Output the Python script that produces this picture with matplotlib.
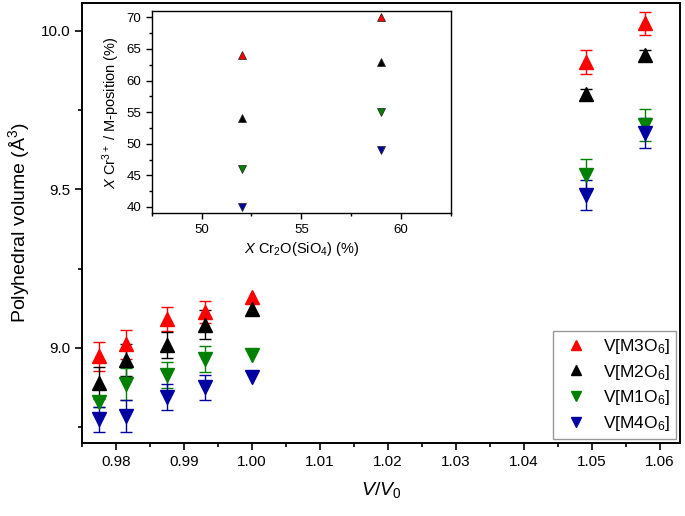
import matplotlib
matplotlib.use("Agg")
import matplotlib.pyplot as plt
from matplotlib.lines import Line2D
from matplotlib.ticker import MultipleLocator

plt.rcParams["font.family"] = ["Liberation Sans", "DejaVu Sans"]
plt.rcParams["mathtext.fontset"] = "custom"
plt.rcParams["mathtext.rm"] = "Liberation Sans"
plt.rcParams["mathtext.it"] = "Liberation Sans:italic"

# main panel: polyhedral volume vs V/V0 (err 0 = no bar drawn)
v_ratio = [0.9775, 0.9815, 0.9875, 0.9931, 1.000, 1.0492, 1.0578]
vol_m3 = [8.973, 9.012, 9.091, 9.113, 9.160, 9.903, 10.024]
err_m3 = [0.045, 0.046, 0.038, 0.035, 0.0, 0.038, 0.037]
vol_m2 = [8.889, 8.962, 9.009, 9.073, 9.122, 9.801, 9.924]
err_m2 = [0.050, 0.050, 0.040, 0.045, 0.0, 0.015, 0.015]
vol_m1 = [8.829, 8.886, 8.915, 8.965, 8.978, 9.546, 9.703]
err_m1 = [0.015, 0.050, 0.040, 0.040, 0.0, 0.050, 0.050]
vol_m4 = [8.775, 8.785, 8.845, 8.876, 8.909, 9.483, 9.677]
err_m4 = [0.040, 0.050, 0.040, 0.040, 0.0, 0.048, 0.047]

# inset: Cr3+ fraction on M-positions vs Cr2O(SiO4) content
x_cr = [52, 59]
cr_m3 = [64, 70]
cr_m2 = [54, 63]
cr_m1 = [46, 55]
cr_m4 = [40, 49]

series = [
    ("V[M3O$_6$]", vol_m3, err_m3, cr_m3, "^", "#ff0000"),
    ("V[M2O$_6$]", vol_m2, err_m2, cr_m2, "^", "#000000"),
    ("V[M1O$_6$]", vol_m1, err_m1, cr_m1, "v", "#008000"),
    ("V[M4O$_6$]", vol_m4, err_m4, cr_m4, "v", "#0000a0"),
]

fig = plt.figure(figsize=(6.85, 5.16), dpi=100)
ax = fig.add_axes([0.1197, 0.1415, 0.873, 0.8527])
handles = []
for label, y, e, _, m, c in series:
    xs = [x for x, ee in zip(v_ratio, e) if ee > 0]
    ys = [v for v, ee in zip(y, e) if ee > 0]
    es = [ee for ee in e if ee > 0]
    ax.errorbar(xs, ys, yerr=es, fmt="none", ecolor=c, elinewidth=1,
                capsize=4, capthick=1, zorder=2)
    ax.plot(v_ratio, y, m, color=c, ms=9.5, mec=c, ls="none", zorder=3)
    handles.append(Line2D([], [], marker=m, color=c, ms=7.5, ls="none", label=label))
ax.set_xlim(0.975, 1.063)
ax.set_ylim(8.70, 10.088)
ax.xaxis.set_major_locator(MultipleLocator(0.01))
ax.xaxis.set_minor_locator(MultipleLocator(0.005))
ax.yaxis.set_major_locator(MultipleLocator(0.5))
ax.yaxis.set_minor_locator(MultipleLocator(0.25))
ax.xaxis.set_major_formatter(plt.FormatStrFormatter("%.2f"))
ax.yaxis.set_major_formatter(plt.FormatStrFormatter("%.1f"))
ax.tick_params(which="major", direction="out", length=5, width=1.2, labelsize=11, top=False, right=False)
ax.tick_params(which="minor", direction="out", length=3, width=1.2, top=False, right=False)
for s in ax.spines.values():
    s.set_linewidth(1.4)
ax.set_xlabel("$\\mathit{V/V_0}$", fontsize=14, labelpad=8)
ax.set_ylabel("Polyhedral volume (Å$^3$)", fontsize=14, labelpad=6)

leg = ax.legend(handles=handles, loc="lower right", fontsize=12.5, frameon=True, fancybox=False,
                edgecolor="#808080", handlelength=2.0, handletextpad=0.6,
                borderpad=0.3, labelspacing=0.4, borderaxespad=0.25)
leg.get_frame().set_linewidth(1.0)

ins = fig.add_axes([0.2215, 0.5866, 0.4369, 0.392])
for label, _, _, yc, m, c in series:
    ins.plot(x_cr, yc, m, color=c, ms=6, mec="#202020", mew=0.5, ls="none")
ins.set_xlim(47.5, 62.5)
ins.set_ylim(39, 71)
ins.xaxis.set_major_locator(MultipleLocator(5))
ins.xaxis.set_minor_locator(MultipleLocator(2.5))
ins.yaxis.set_major_locator(MultipleLocator(5))
ins.yaxis.set_minor_locator(MultipleLocator(2.5))
ins.tick_params(which="major", direction="out", length=4, width=1, labelsize=9.5)
ins.tick_params(which="minor", direction="out", length=2.5, width=1)
for s in ins.spines.values():
    s.set_linewidth(1.0)
ins.set_xlabel("$\\mathit{X}$ Cr$_2$O(SiO$_4$) (%)", fontsize=10.5, labelpad=3)
ins.set_ylabel("$\\mathit{X}$ Cr$^{3+}$ / M-position (%)", fontsize=10.5, labelpad=3)

fig.savefig("out.png", dpi=100)
